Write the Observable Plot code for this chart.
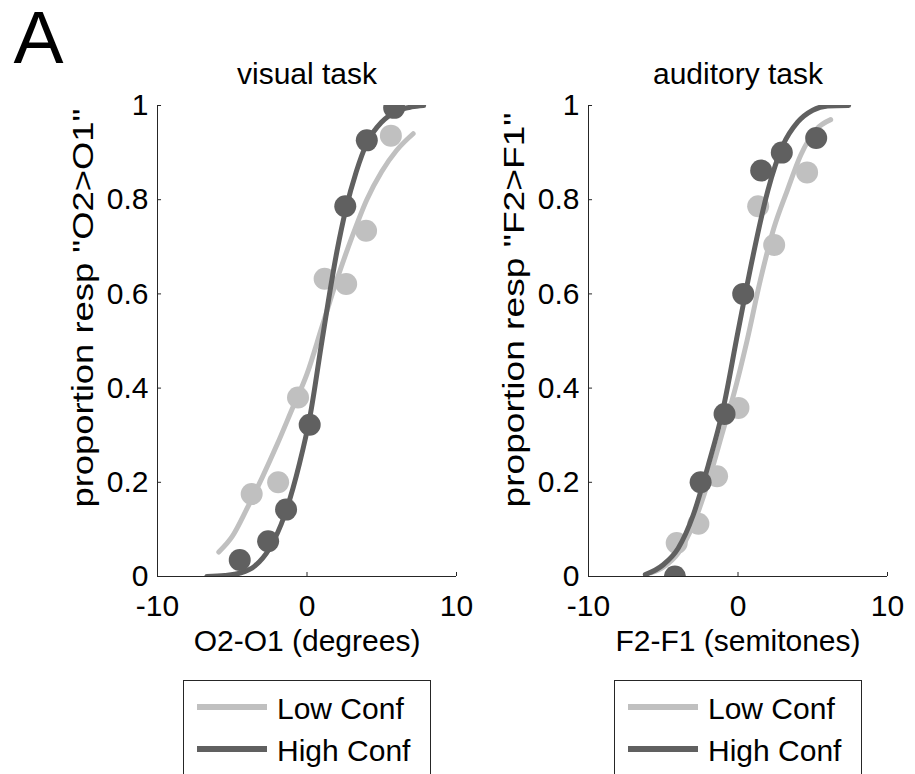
<!DOCTYPE html>
<html>
<head>
<meta charset="utf-8">
<script src="https://cdn.jsdelivr.net/npm/d3@7"></script>
<script src="https://cdn.jsdelivr.net/npm/@observablehq/plot@0.6"></script>
<style>
  html, body { margin: 0; padding: 0; background: #fff; overflow: hidden; }
  #wrap { position: relative; width: 915px; height: 774px; overflow: hidden; font-family: "Liberation Sans", Arial, sans-serif; color: #000; }
  .panel { position: absolute; top: 0; }
  .legend { position: absolute; top: 680px; width: 248px; height: 140px; border: 1px solid #262626; background: #fff; box-sizing: border-box; }
  .legend .ln { position: absolute; left: 13px; width: 70px; height: 6px; }
  .legend .lt { position: absolute; left: 93px; font-size: 30px; line-height: 30px; white-space: nowrap; }
</style>
</head>
<body>
<div id="wrap"></div>
<script>
// ---- tick labels / categories ----
const xTicks = [-10, 0, 10];
const yTicks = [0, 0.2, 0.4, 0.6, 0.8, 1];
const seriesNames = ["Low Conf", "High Conf"];
const seriesColors = ["#c0c0c0", "#606060"];
const panelTitles = ["visual task", "auditory task"];
const xLabels = ["O2-O1 (degrees)", "F2-F1 (semitones)"];
const yLabels = ["proportion resp \"O2>O1\"", "proportion resp \"F2>F1\""];

// ---- visual task: data points ----
const visLowX  = [-3.7, -1.93, -0.6, 1.18, 2.62, 3.95, 5.61];
const visLowY  = [0.175, 0.20, 0.38, 0.632, 0.621, 0.734, 0.936];
const visHighX = [-4.5, -2.6, -1.4, 0.18, 2.56, 4.0, 5.83];
const visHighY = [0.035, 0.075, 0.142, 0.322, 0.786, 0.926, 0.995];
// ---- visual task: fitted curves ----
const visLowCurveX  = [-5.9, -5, -4, -3, -2, -1, 0, 1, 2, 3, 4, 5, 6, 7.1];
const visLowCurveY  = [0.052, 0.085, 0.145, 0.21, 0.28, 0.355, 0.43, 0.53, 0.63, 0.72, 0.8, 0.86, 0.905, 0.94];
const visHighCurveX = [-6.7, -5.5, -4.5, -3.5, -2.5, -1.5, -0.5, 0.2, 1.0, 2.0, 2.6, 3.3, 4.0, 5.0, 6.0, 7.0, 7.8];
const visHighCurveY = [0, 0.002, 0.007, 0.022, 0.06, 0.13, 0.24, 0.34, 0.5, 0.69, 0.78, 0.86, 0.92, 0.965, 0.988, 0.997, 1.0];

// ---- auditory task: data points ----
const audLowX  = [-4.1, -2.65, -1.4, 0.03, 1.35, 2.42, 4.62];
const audLowY  = [0.071, 0.112, 0.213, 0.358, 0.786, 0.704, 0.858];
const audHighX = [-4.22, -2.5, -0.9, 0.35, 1.55, 2.93, 5.23];
const audHighY = [0.0, 0.2, 0.345, 0.6, 0.862, 0.9, 0.931];
// ---- auditory task: fitted curves ----
const audLowCurveX  = [-5.8, -5, -4, -3, -2, -1, -0.3, 0.6, 1.5, 2.4, 3.3, 4.2, 5.2, 6.2];
const audLowCurveY  = [0.008, 0.02, 0.05, 0.11, 0.2, 0.31, 0.385, 0.5, 0.63, 0.74, 0.82, 0.895, 0.948, 0.97];
const audHighCurveX = [-6.2, -5, -4, -3, -2, -1, 0, 1, 2, 3, 4, 5, 6, 7.4];
const audHighCurveY = [0.004, 0.025, 0.06, 0.13, 0.235, 0.355, 0.52, 0.68, 0.82, 0.915, 0.965, 0.99, 0.999, 1.0];

// ---- styling constants ----
const axisColor = "#262626";
const FONT = "\"Liberation Sans\", Arial, Helvetica, sans-serif";
const panelOffset = 431;
const tickLenX = 0.27;   // inward tick length in x units
const tickLenY = 0.0085; // inward tick length in y units

const pts = (xs, ys) => xs.map((x, i) => ({x, y: ys[i]}));

function makePanel(i, d) {
  const marks = [
    Plot.line(pts(d.lowCX, d.lowCY), {x: "x", y: "y", stroke: seriesColors[0], strokeWidth: 5, curve: "monotone-x", clip: true}),
    Plot.dot(pts(d.lowX, d.lowY), {x: "x", y: "y", r: 11, fill: seriesColors[0], stroke: "none", clip: true}),
    Plot.line(pts(d.highCX, d.highCY), {x: "x", y: "y", stroke: seriesColors[1], strokeWidth: 5, curve: "monotone-x", clip: true}),
    Plot.dot(pts(d.highX, d.highY), {x: "x", y: "y", r: 11, fill: seriesColors[1], stroke: "none", clip: true}),
    Plot.ruleX([xTicks[0]], {stroke: axisColor, strokeWidth: 1}),
    Plot.ruleY([yTicks[0]], {stroke: axisColor, strokeWidth: 1}),
    Plot.ruleY(yTicks, {y: d => d, x1: xTicks[0], x2: xTicks[0] + tickLenX, stroke: axisColor, strokeWidth: 1}),
    Plot.ruleX(xTicks, {x: d => d, y1: yTicks[0], y2: yTicks[0] + tickLenY, stroke: axisColor, strokeWidth: 1}),
    Plot.axisY({ticks: yTicks, tickSize: 0, tickPadding: 9, fontSize: 30, label: null, tickFormat: v => String(v), fill: "#000"}),
    Plot.axisX({ticks: xTicks, tickSize: 0, tickPadding: 18, fontSize: 30, label: null, tickFormat: v => String(v), fill: "#000"}),
    Plot.text([panelTitles[i]], {frameAnchor: "top", dy: -22, lineAnchor: "bottom", fontSize: 30, fill: "#000"}),
    Plot.text([xLabels[i]], {frameAnchor: "bottom", dy: 74, lineAnchor: "bottom", fontSize: 30, fill: "#000"}),
    Plot.text([yLabels[i]], {frameAnchor: "bottom-left", dx: -65, dy: -69, rotate: -90, textAnchor: "start", lineAnchor: "bottom", fontSize: 30, fill: "#000"})
  ];
  if (i === 0) {
    marks.push(Plot.text(["A"], {frameAnchor: "top-left", dx: -144, dy: -43, textAnchor: "start", lineAnchor: "bottom", fontSize: 75, fill: "#000"}));
  }
  const svg = Plot.plot({
    width: 460,
    height: 680,
    marginLeft: 157,
    marginRight: 4,
    marginTop: 105,
    marginBottom: 104,
    x: {domain: [xTicks[0], xTicks[xTicks.length - 1]], label: null},
    y: {domain: [yTicks[0], yTicks[yTicks.length - 1]], label: null},
    style: {fontFamily: FONT, fontSize: "30px", background: "transparent", overflow: "visible"},
    marks
  });
  svg.classList.add("panel");
  svg.style.left = (i * panelOffset) + "px";
  svg.style.top = "0px";
  svg.style.position = "absolute";
  svg.style.maxWidth = "none";
  svg.style.height = "680px";
  // stretch y label along its direction, as in the reference
  d3.select(svg).selectAll("text").filter(function () {
    return this.textContent.startsWith("proportion");
  }).attr("textLength", d.yLabelLen).attr("lengthAdjust", "spacingAndGlyphs");
  return svg;
}

function makeLegend(i) {
  const box = document.createElement("div");
  box.className = "legend";
  box.style.left = (183 + i * panelOffset) + "px";
  const lineTops = [22.7, 65.3];
  const textTops = [12.9, 55.3];
  seriesNames.forEach((name, k) => {
    const ln = document.createElement("div");
    ln.className = "ln";
    ln.style.top = lineTops[k] + "px";
    ln.style.background = seriesColors[k];
    const lt = document.createElement("div");
    lt.className = "lt";
    lt.style.top = textTops[k] + "px";
    lt.textContent = name;
    box.appendChild(ln);
    box.appendChild(lt);
  });
  return box;
}

const wrap = document.getElementById("wrap");
wrap.appendChild(makePanel(0, {
  lowX: visLowX, lowY: visLowY, highX: visHighX, highY: visHighY,
  lowCX: visLowCurveX, lowCY: visLowCurveY, highCX: visHighCurveX, highCY: visHighCurveY,
  yLabelLen: 399
}));
wrap.appendChild(makePanel(1, {
  lowX: audLowX, lowY: audLowY, highX: audHighX, highY: audHighY,
  lowCX: audLowCurveX, lowCY: audLowCurveY, highCX: audHighCurveX, highCY: audHighCurveY,
  yLabelLen: 395
}));
wrap.appendChild(makeLegend(0));
wrap.appendChild(makeLegend(1));
</script>
</body>
</html>
